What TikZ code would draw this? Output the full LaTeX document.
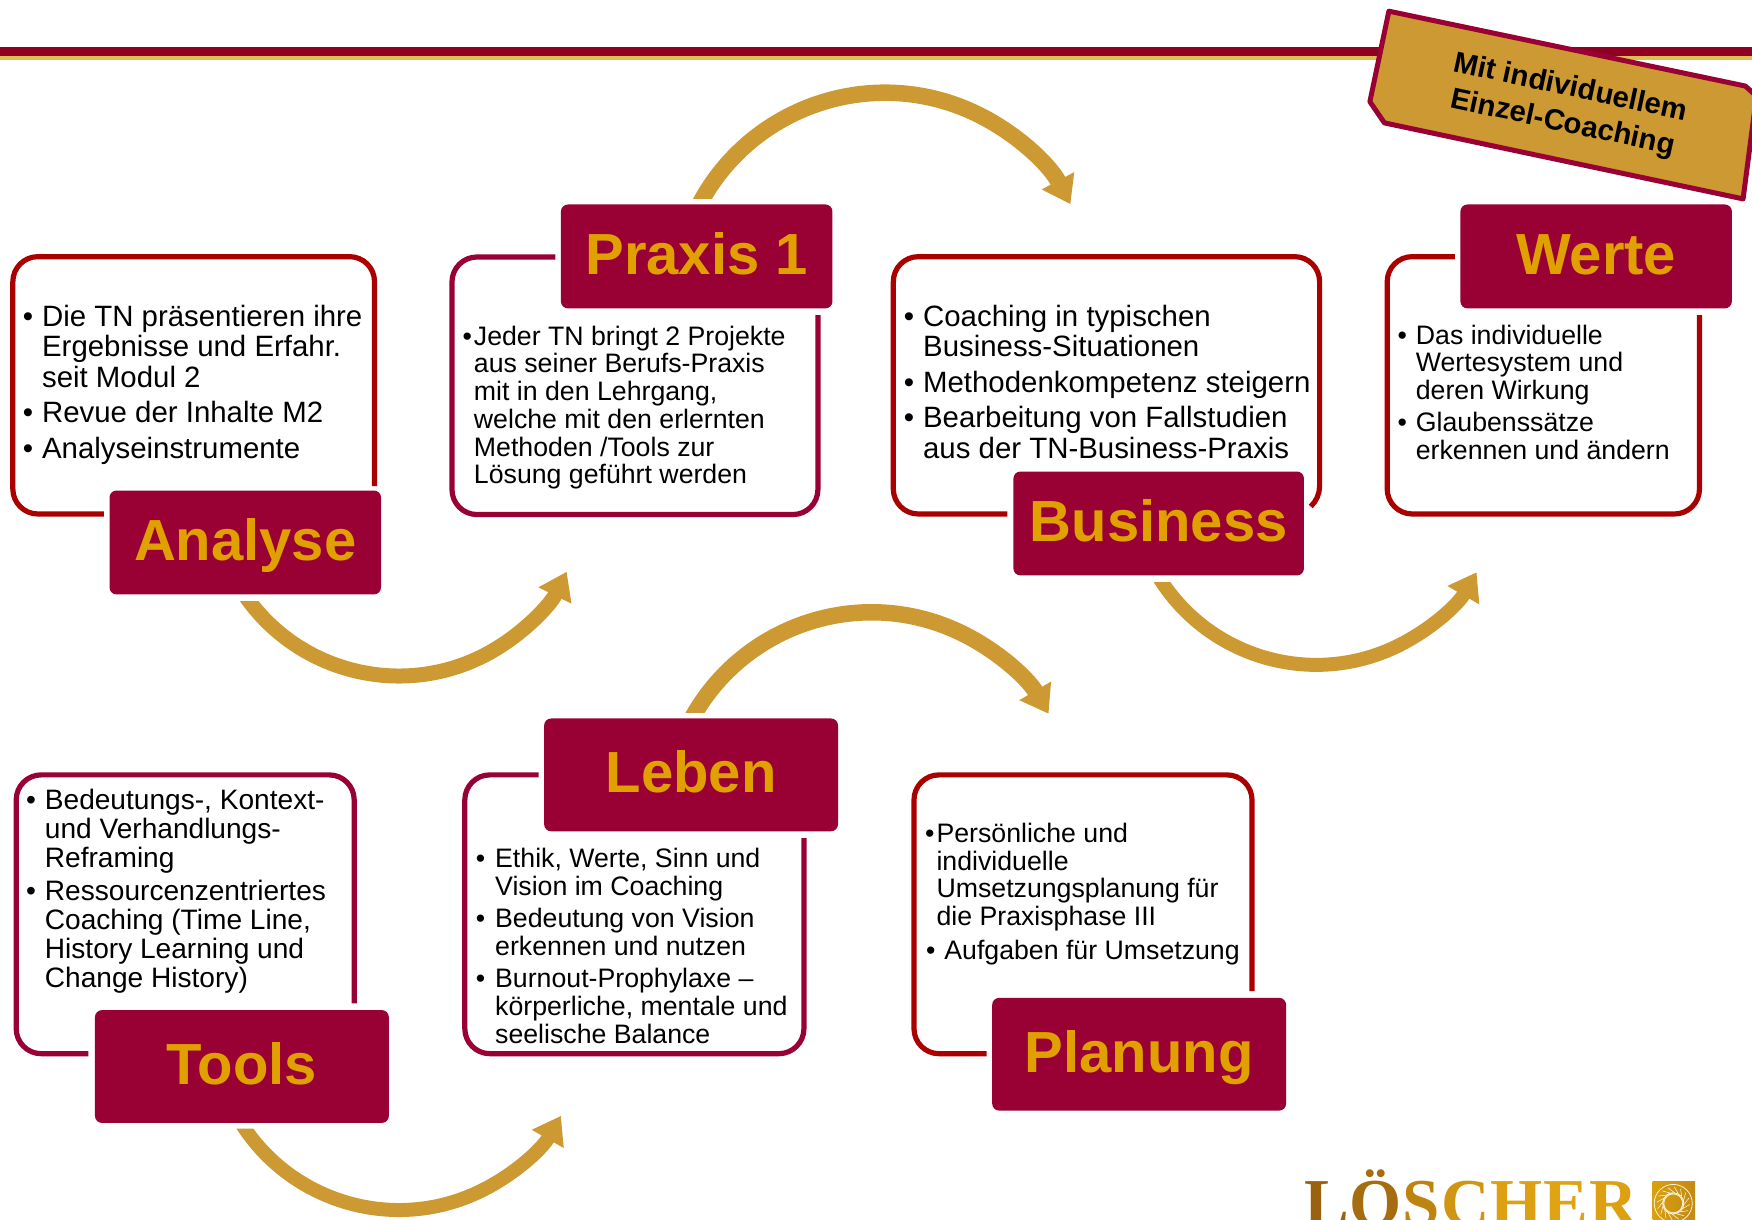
\documentclass[tikz,border=0pt]{standalone}
\usepackage{fontspec}
\usetikzlibrary{arrows.meta}
\setmainfont{Liberation Sans}
\newfontfamily\logofont{Liberation Serif}
\definecolor{wine}{HTML}{990033}
\definecolor{framered}{HTML}{AA0000}
\definecolor{goldtxt}{HTML}{E0A100}
\definecolor{band}{HTML}{CC9933}
\definecolor{rulegold}{HTML}{E0BC55}
\definecolor{rulered}{HTML}{8F0022}
\definecolor{logoa}{HTML}{D9A00F}
\definecolor{logob}{HTML}{C48A12}
\newcommand\Ln[1]{\begin{tabular}[t]{@{}l@{}}#1\end{tabular}}
\newcommand\Bu[1]{\llap{•\hspace{#1}}}
\newcommand\Lg[2]{\textcolor[HTML]{#1}{#2}\kern1pt\relax}
\tikzset{
  x=1.117347pt,y=-1.117347pt,
  labelbox/.style={fill=wine,rounded corners=7pt,text=goldtxt,inner sep=0pt,
    text height=41.5pt,text depth=5.4pt,
    font=\fontsize{58}{60}\selectfont\bfseries,align=center},
  boxA/.style={labelbox,minimum width=271.5pt,minimum height=103.9pt},
  boxB/.style={labelbox,minimum width=290.5pt,minimum height=103.9pt},
  boxC/.style={labelbox,minimum width=293.9pt,minimum height=112.8pt},
  frameR/.style={draw=framered,line width=5.2pt,rounded corners=25pt},
  frameW/.style={draw=wine,line width=5.2pt,rounded corners=25pt},
  txt/.style={anchor=base west,inner sep=0pt,text=black},
  szA/.style={txt,font=\fontsize{29.4}{30.7}\selectfont},
  szB/.style={txt,font=\fontsize{26.7}{27.7}\selectfont},
  szC/.style={txt,font=\fontsize{28.1}{28.8}\selectfont},
  bandarrow/.style={draw=band,line width=15pt,
    -{Triangle[length=26.5pt,width=35pt,fill=band]}},
}
\begin{document}
\begin{tikzpicture}
\useasboundingbox (0,0) rectangle (1568,1091);
\clip (0,0) rectangle (1568,1091);
% header rule
\fill[rulered] (0,42) rectangle (1568,50);
\fill[rulegold] (0,50) rectangle (1568,53.7);
\fill[black] (491,0) arc[start angle=180,end angle=360,x radius=7,y radius=2.2] -- cycle;

% curved arrows
\coordinate (a1c) at (357,437.5);
\coordinate (a2c) at (792,271);
\coordinate (a3c) at (1178,429.3);
\coordinate (a4c) at (780,731.7);
\coordinate (a5c) at (357,916);
\path (a1c) ++(150:167.5) coordinate (a1s);
\path (a2c) ++(-155:188) coordinate (a2s);
\path (a3c) ++(155:165.7) coordinate (a3s);
\path (a4c) ++(-155:183.7) coordinate (a4s);
\path (a5c) ++(155:166.9) coordinate (a5s);
\begin{scope}\clip (0,538) rectangle (400,700) (400,0) rectangle (1568,700);
\draw[bandarrow] (a1s) arc[start angle=150,end angle=26.3,radius=167.5];
\end{scope}
\begin{scope}\clip (0,0) rectangle (800,178) (800,0) rectangle (1568,300);
\draw[bandarrow,line width=16.5pt] (a2s) arc[start angle=-155,end angle=-28,radius=188];
\end{scope}
\begin{scope}\clip (0,521) rectangle (1200,700) (1200,400) rectangle (1568,700);
\draw[bandarrow,line width=14pt] (a3s) arc[start angle=155,end angle=30,radius=165.7];
\end{scope}
\begin{scope}\clip (0,500) rectangle (800,638) (800,500) rectangle (1568,700);
\draw[bandarrow,line width=16.5pt] (a4s) arc[start angle=-155,end angle=-30.4,radius=183.7];
\end{scope}
\begin{scope}\clip (0,1010) rectangle (400,1091) (400,900) rectangle (1568,1091);
\draw[bandarrow,line width=14pt] (a5s) arc[start angle=155,end angle=29.7,radius=166.9];
\end{scope}

% frames
\draw[frameR] (93,460) -- (11.5,460) -- (11.5,229.7) -- (335.2,229.7) -- (335.2,435);
\draw[frameW] (497,230) -- (404.5,230) -- (404.5,460.5) -- (732,460.5) -- (732,282);
\draw[frameR] (901.5,460) -- (799.5,460) -- (799.5,229.7) -- (1181,229.7) -- (1181,435.5);
\draw[draw=framered,line width=5.2pt] (1181,435) arc[start angle=0,end angle=47,radius=25];
\draw[frameR] (1302,229.7) -- (1241.5,229.7) -- (1241.5,460) -- (1521,460) -- (1521,282);
\draw[frameW] (79,943) -- (14.5,943) -- (14.5,693.5) -- (317,693.5) -- (317,898);
\draw[frameW] (482,693.5) -- (416,693.5) -- (416,943) -- (719.5,943) -- (719.5,750);
\draw[frameR] (883,943) -- (818,943) -- (818,693.5) -- (1120.5,693.5) -- (1120.5,887);

% labels
\node[boxA] (analyse) at (219.5,485.5) {Analyse};
\node[boxA] (praxis) at (623.5,229.5) {Praxis 1};
\node[boxB] (business) at (1037,468.5) {Business};
\node[boxA] (werte) at (1428.5,229.5) {Werte};
\node[boxC] (tools) at (216.5,954.5) {Tools};
\node[boxC] (leben) at (618.5,693.5) {Leben};
\node[boxC] (planung) at (1019.5,943.5) {Planung};

% texts
\node[szA] (t1a) at (37.5,292) {\Ln{\Bu{9pt}Die TN präsentieren ihre\\Ergebnisse und Erfahr.\\seit Modul 2}};
\node[szA] (t1b) at (37.5,378) {\Ln{\Bu{9pt}Revue der Inhalte M2}};
\node[szA] (t1c) at (37.5,410) {\Ln{\Bu{9pt}Analyseinstrumente}};

\node[szB] (t2a) at (424,309) {\Ln{\Bu{2pt}Jeder TN bringt 2 Projekte\\aus seiner Berufs-Praxis\\mit in den Lehrgang,\\welche mit den erlernten\\Methoden /Tools zur\\Lösung geführt werden}};

\node[szA] (t3a) at (826,292) {\Ln{\Bu{9pt}Coaching in typischen\\Business-Situationen}};
\node[szA] (t3b) at (826,351) {\Ln{\Bu{9pt}Methodenkompetenz steigern}};
\node[szA] (t3c) at (826,382.7) {\Ln{\Bu{9pt}Bearbeitung von Fallstudien\\aus der TN-Business-Praxis}};

\node[szB] (t4a) at (1267,308) {\Ln{\Bu{9pt}Das individuelle\\Wertesystem und\\deren Wirkung}};
\node[szB] (t4b) at (1267,386.3) {\Ln{\Bu{9pt}Glaubenssätze\\erkennen und ändern}};

\node[szC] (t5a) at (40,724.5) {\Ln{\Bu{9pt}Bedeutungs-, Kontext-\\und Verhandlungs-\\Reframing}};
\node[szC] (t5b) at (40,806) {\Ln{\Bu{9pt}Ressourcenzentriertes\\Coaching (Time Line,\\History Learning und\\Change History)}};

\node[szB] (t6a) at (443,776.3) {\Ln{\Bu{10pt}Ethik, Werte, Sinn und\\Vision im Coaching}};
\node[szB] (t6b) at (443,830) {\Ln{\Bu{10pt}Bedeutung von Vision\\erkennen und nutzen}};
\node[szB] (t6c) at (443,884) {\Ln{\Bu{10pt}Burnout-Prophylaxe --\\körperliche, mentale und\\seelische Balance}};

\node[szB] (t7a) at (838,754) {\Ln{\Bu{2pt}Persönliche und\\individuelle\\Umsetzungsplanung für\\die Praxisphase III}};
\node[szB] (t7b) at (845,859) {\Ln{\Bu{9pt}Aufgaben für Umsetzung}};

% badge
\draw[draw=wine,line width=5pt,fill=band,line join=round]
  (1243,10) -- (1562,77) -- (1572,86) -- (1560,178) -- (1239,110) -- (1226,91) -- cycle;
\node[inner sep=0pt,rotate=-12,align=center,font=\fontsize{29.3}{36}\selectfont\bfseries] (coach) at (1402,95)
  {Mit individuellem\\Einzel-Coaching};

% logo
\node[anchor=base west,inner sep=0pt,font=\logofont\fontsize{67}{67}\selectfont\bfseries] (logo) at (1167,1097)
  {\Lg{9A620F}{L}\Lg{A66C10}{Ö}\Lg{BE8410}{S}\Lg{D09612}{C}\Lg{DCA012}{H}\Lg{DFA414}{E}\Lg{DDA012}{R}};
\shade[left color=logoa,right color=logob] (1479,1057) rectangle (1517,1095);
\draw[white!85!goldtxt,line width=.8pt] (1497.5,1077) circle[radius=17];
\draw[white!85!goldtxt,line width=.8pt] (1497.5,1077) circle[radius=9.5];
\foreach \a in {0,22.5,...,337.5}{
  \draw[white!85!goldtxt,line width=.6pt] (1497.5,1077) ++(\a:-9.5) -- ++(\a+60:17);
}
\end{tikzpicture}
\end{document}
